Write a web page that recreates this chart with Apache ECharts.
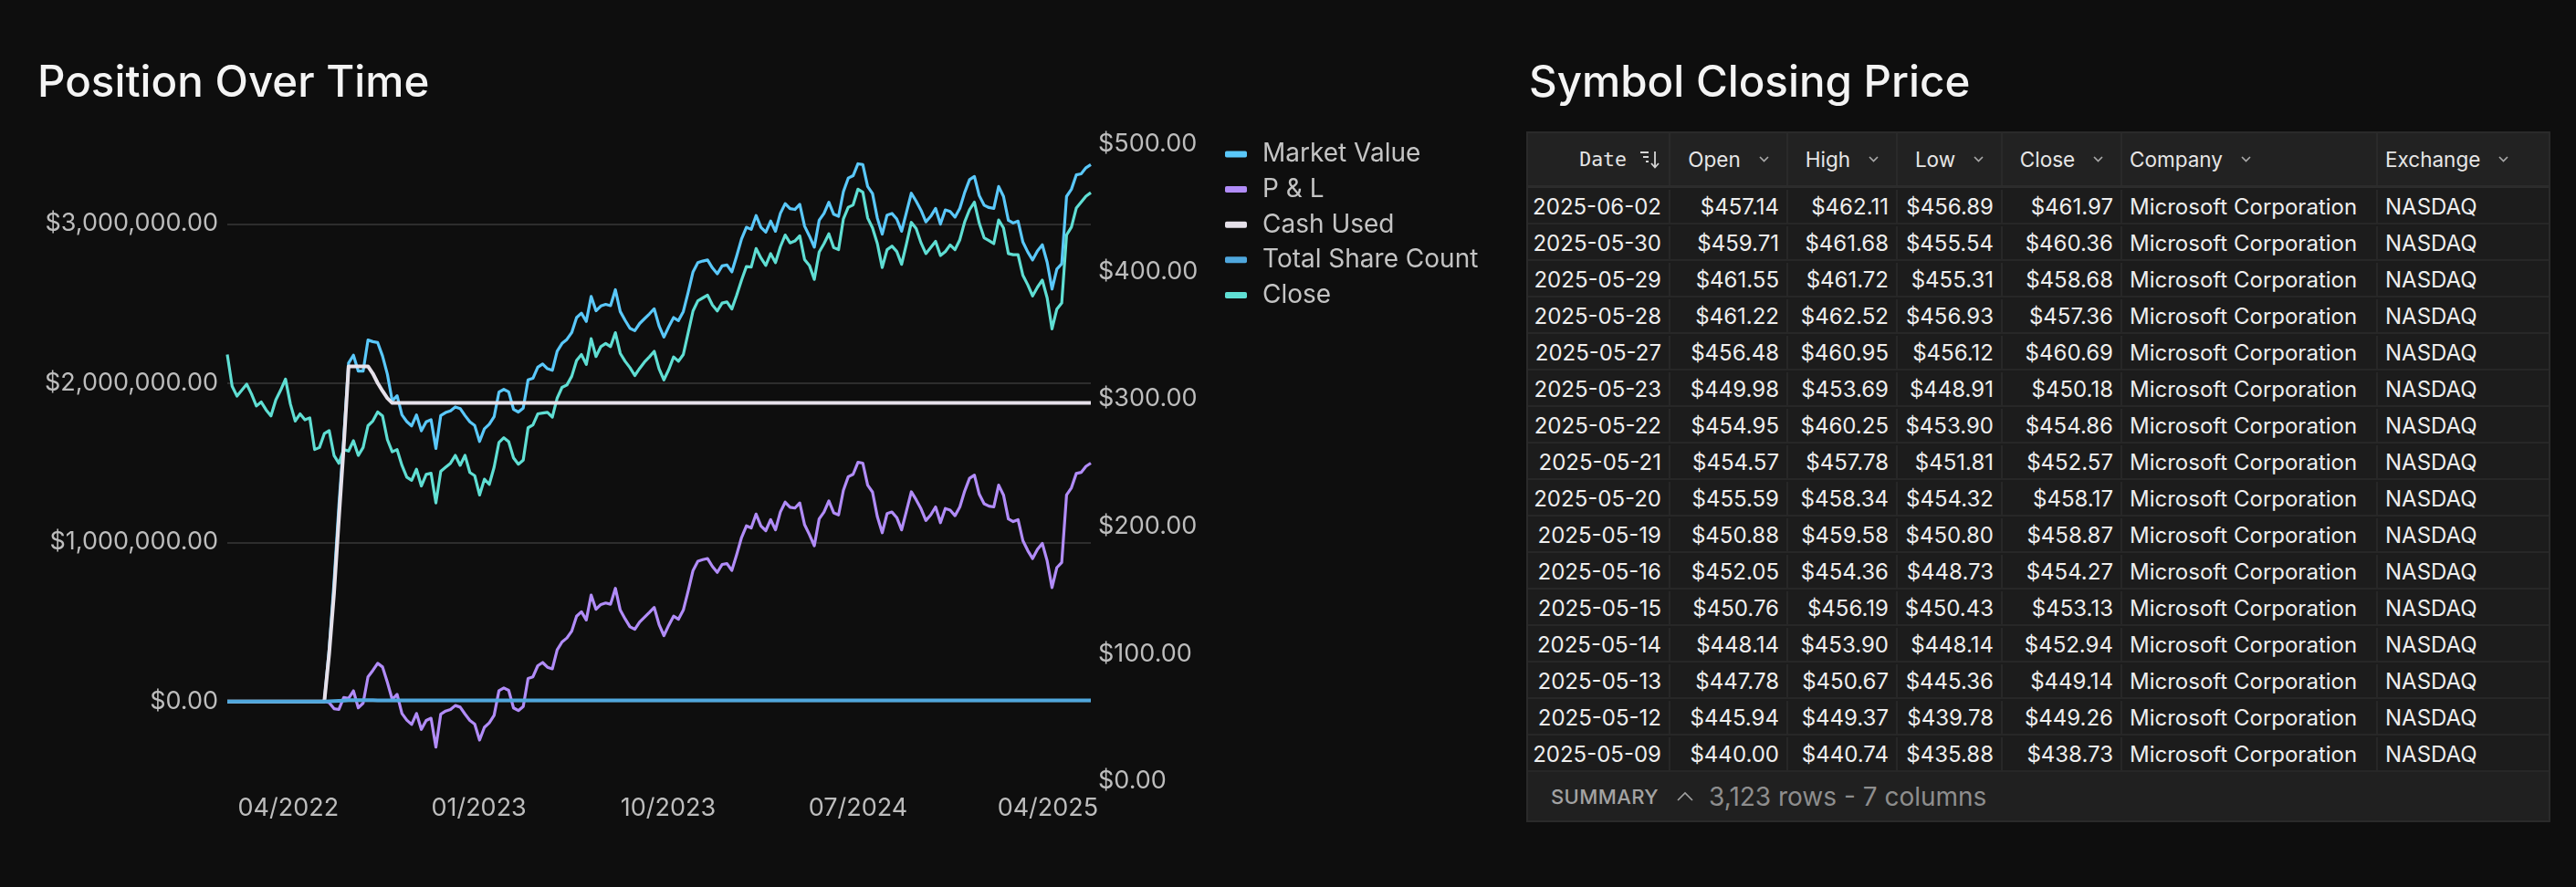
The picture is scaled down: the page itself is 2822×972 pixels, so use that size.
<!DOCTYPE html>
<html>
<head>
<meta charset="utf-8">
<script src="https://cdn.jsdelivr.net/npm/echarts@6/dist/echarts.min.js"></script>
<style>
html,body{margin:0;padding:0;background:#0e0e0e;width:2822px;height:972px;overflow:hidden;font-family:Inter,'Noto Sans',sans-serif;}
#chart{position:absolute;left:0;top:0;width:2822px;height:972px;}
.title{position:absolute;top:65px;font-size:47.5px;line-height:47px;font-weight:500;color:#f4f4f4;white-space:nowrap;}
#tbl{position:absolute;left:1672px;top:144px;width:1122px;height:757px;border:2px solid #2a2a2a;box-sizing:border-box;background:#1c1c1c;}
.hdr{display:flex;height:60px;background:#222222;border-bottom:3px solid #2c2c2c;box-sizing:border-box;}
.hcell{height:100%;border-right:2px solid #2a2a2a;display:flex;align-items:center;justify-content:center;box-sizing:border-box;font-size:22.5px;color:#e6e6e6;white-space:nowrap;}
.row{display:flex;height:40px;border-bottom:2px solid #272727;box-sizing:border-box;padding-top:2px;}
.cell{height:100%;border-right:2px solid #272727;display:flex;align-items:center;box-sizing:border-box;font-size:24px;color:#eeeeee;padding:0 8px;white-space:nowrap;overflow:hidden;}
.last{border-right:none;}
.right{justify-content:flex-end;}
.left{justify-content:flex-start;}
.footer{height:53px;background:#202020;display:flex;align-items:center;padding-left:25px;box-sizing:border-box;}
.sum{font-size:22px;color:#a3a3a3;font-weight:500;letter-spacing:0.4px;}
.cnt{font-size:28px;color:#8e8e8e;margin-left:17px;}
</style>
</head>
<body>
<div id="chart"></div>
<div class="title" style="left:41px">Position Over Time</div>
<div class="title" style="left:1675px">Symbol Closing Price</div>
<div id="tbl"></div>
<script>
// ---------- chart data (weekly samples) ----------
const weekDates = [
'2022-01-03','2022-01-10','2022-01-17','2022-01-24','2022-01-31','2022-02-07','2022-02-14','2022-02-21','2022-02-28','2022-03-07','2022-03-14','2022-03-21','2022-03-28','2022-04-04','2022-04-11','2022-04-18','2022-04-25','2022-05-02','2022-05-09','2022-05-16','2022-05-23','2022-05-30','2022-06-06','2022-06-13','2022-06-20','2022-06-27','2022-07-04','2022-07-11','2022-07-18','2022-07-25','2022-08-01','2022-08-08','2022-08-15','2022-08-22','2022-08-29','2022-09-05','2022-09-12','2022-09-19','2022-09-26','2022-10-03','2022-10-10','2022-10-17','2022-10-24','2022-10-31','2022-11-07','2022-11-14','2022-11-21','2022-11-28','2022-12-05','2022-12-12','2022-12-19','2022-12-26',
'2023-01-02','2023-01-09','2023-01-16','2023-01-23','2023-01-30','2023-02-06','2023-02-13','2023-02-20','2023-02-27','2023-03-06','2023-03-13','2023-03-20','2023-03-27','2023-04-03','2023-04-10','2023-04-17','2023-04-24','2023-05-01','2023-05-08','2023-05-15','2023-05-22','2023-05-29','2023-06-05','2023-06-12','2023-06-19','2023-06-26','2023-07-03','2023-07-10','2023-07-17','2023-07-24','2023-07-31','2023-08-07','2023-08-14','2023-08-21','2023-08-28','2023-09-04','2023-09-11','2023-09-18','2023-09-25','2023-10-02','2023-10-09','2023-10-16','2023-10-23','2023-10-30','2023-11-06','2023-11-13','2023-11-20','2023-11-27','2023-12-04','2023-12-11','2023-12-18','2023-12-25',
'2024-01-01','2024-01-08','2024-01-15','2024-01-22','2024-01-29','2024-02-05','2024-02-12','2024-02-19','2024-02-26','2024-03-04','2024-03-11','2024-03-18','2024-03-25','2024-04-01','2024-04-08','2024-04-15','2024-04-22','2024-04-29','2024-05-06','2024-05-13','2024-05-20','2024-05-27','2024-06-03','2024-06-10','2024-06-17','2024-06-24','2024-07-01','2024-07-08','2024-07-15','2024-07-22','2024-07-29','2024-08-05','2024-08-12','2024-08-19','2024-08-26','2024-09-02','2024-09-09','2024-09-16','2024-09-23','2024-09-30','2024-10-07','2024-10-14','2024-10-21','2024-10-28','2024-11-04','2024-11-11','2024-11-18','2024-11-25','2024-12-02','2024-12-09','2024-12-16','2024-12-23','2024-12-30',
'2025-01-06','2025-01-13','2025-01-20','2025-01-27','2025-02-03','2025-02-10','2025-02-17','2025-02-24','2025-03-03','2025-03-10','2025-03-17','2025-03-24','2025-03-31','2025-04-07','2025-04-14','2025-04-21','2025-04-28','2025-05-05','2025-05-12','2025-05-19','2025-05-26','2025-06-02'
];

const closePrice = [
334.9,310.0,302.3,306.9,311.6,303.8,294.5,297.6,291.4,286.7,299.2,306.9,315.6,296.1,282.7,288.3,283.6,285.2,260.3,261.9,272.8,275.2,255.7,249.5,260.3,259.1,267.2,255.7,261.9,279.0,282.7,289.8,286.7,268.1,258.5,260.3,247.9,238.6,236.1,244.8,231.7,240.8,241.7,218.4,243.2,246.4,249.5,255.7,247.9,255.7,242.3,239.8,
224.6,237.0,233.0,246.4,265.9,269.6,266.5,253.8,248.8,251.9,277.4,279.6,288.3,288.9,289.5,285.8,300.7,309.1,311.0,317.8,330.2,334.9,327.1,347.3,333.3,341.1,343.6,341.1,352.0,335.8,329.6,324.6,318.4,324.0,329.0,333.0,337.4,323.7,315.0,323.1,333.0,329.6,334.9,352.0,369.1,377.1,379.3,381.5,373.7,369.1,375.3,376.2,
370.6,381.5,393.3,403.9,403.5,418.1,410.7,404.8,414.1,407.0,419.4,428.7,422.5,424.0,428.1,409.4,404.8,393.9,415.3,421.9,429.6,418.8,417.2,441.4,450.5,452.3,464.7,462.3,442.1,434.3,421.9,403.2,417.2,420.0,415.7,405.7,421.9,438.6,433.7,422.5,414.1,418.8,423.7,412.6,415.7,420.9,417.2,425.0,439.0,448.6,454.5,438.0,426.5,
424.4,421.9,440.5,434.3,414.1,413.2,413.2,397.0,389.6,380.9,387.7,393.3,379.3,355.0,370.6,375.3,428.7,434.9,449.8,454.5,459.2,461.97
];

const marketValue = [
0,0,0,0,0,0,0,0,0,0,0,0,0,0,0,0,0,0,0,0,0,330000,750000,1230000,1650000,2125000,2175000,2075000,2075000,2270000,2260000,2254000,2170000,2055000,1888000,1920000,1800000,1758000,1731000,1800000,1700000,1756000,1770000,1589000,1796000,1815000,1825000,1850000,1840000,1796000,1756000,1733000,
1633000,1713000,1741000,1788000,1943000,1960000,1945000,1835000,1818000,1843000,2020000,2030000,2100000,2120000,2090000,2080000,2200000,2249000,2274000,2317000,2411000,2439000,2387000,2544000,2454000,2484000,2494000,2486000,2586000,2449000,2394000,2344000,2329000,2374000,2404000,2434000,2466000,2359000,2289000,2354000,2411000,2392000,2449000,2569000,2698000,2756000,2766000,2773000,2723000,2686000,2736000,2741000,
2698000,2798000,2905000,2978000,2965000,3052000,2978000,2948000,3017000,2953000,3065000,3127000,3095000,3090000,3122000,2985000,2923000,2853000,3022000,3065000,3135000,3060000,3047000,3202000,3287000,3302000,3377000,3372000,3234000,3190000,3035000,2935000,3055000,3065000,3030000,2953000,3072000,3192000,3142000,3085000,3012000,3047000,3097000,2998000,3087000,3077000,3042000,3097000,3197000,3277000,3297000,3177000,3117000,
3102000,3097000,3234000,3172000,3022000,3005000,3017000,2885000,2823000,2773000,2830000,2868000,2758000,2590000,2716000,2748000,3172000,3217000,3307000,3314000,3352000,3372000
];

const profitLoss = [
0,0,0,0,0,0,0,0,0,0,0,0,0,0,0,0,0,0,0,0,0,-7000,-45000,-50000,25000,20000,67000,-40000,-10000,155000,195000,240000,217000,120000,13000,45000,-75000,-117000,-144000,-75000,-175000,-119000,-105000,-286000,-79000,-60000,-50000,-25000,-35000,-79000,-119000,-142000,
-242000,-162000,-134000,-87000,68000,85000,70000,-40000,-57000,-32000,145000,155000,225000,245000,215000,205000,325000,374000,399000,442000,536000,564000,512000,669000,579000,609000,619000,611000,711000,574000,519000,469000,454000,499000,529000,559000,591000,484000,414000,479000,536000,517000,574000,694000,823000,881000,891000,898000,848000,811000,861000,866000,
823000,923000,1030000,1103000,1090000,1177000,1103000,1073000,1142000,1078000,1190000,1252000,1220000,1215000,1247000,1110000,1048000,978000,1147000,1190000,1260000,1185000,1172000,1327000,1412000,1427000,1502000,1497000,1359000,1315000,1160000,1060000,1180000,1190000,1155000,1078000,1197000,1317000,1267000,1210000,1137000,1172000,1222000,1123000,1212000,1202000,1167000,1222000,1322000,1402000,1422000,1302000,1242000,
1227000,1222000,1359000,1297000,1147000,1130000,1142000,1010000,948000,898000,955000,993000,883000,715000,841000,873000,1297000,1342000,1432000,1439000,1477000,1497000
];

// piecewise-constant series: values at the dates where they change
const positionDates = ['2022-01-03','2022-05-23','2022-05-30','2022-06-06','2022-06-13','2022-06-20','2022-06-27','2022-07-25','2022-08-01','2022-08-08','2022-08-15','2022-08-22','2022-08-29','2025-06-02'];
const cashUsed      = [0, 0, 300000, 680000, 1150000, 1600000, 2105000, 2105000, 2060000, 2000000, 1950000, 1905000, 1875000, 1875000];
const shareCount    = [0, 0, 1100, 2700, 4600, 6300, 8150, 8150, 8000, 7800, 7600, 7450, 7300, 7300];

const xTickDates = ['2022-04-01','2023-01-01','2023-10-01','2024-07-01','2025-04-01'];
const leftTicks = [0, 1000000, 2000000, 3000000];
const seriesNames = ['Market Value','P & L','Cash Used','Total Share Count','Close'];
const seriesColors = ['#5ac8fa','#b18cf8','#e6e1ea','#4fa7dd','#5fded3'];

// ---------- table data ----------
const tableColumns = ['Date','Open','High','Low','Close','Company','Exchange'];
const tableDates = ['2025-06-02','2025-05-30','2025-05-29','2025-05-28','2025-05-27','2025-05-23','2025-05-22','2025-05-21','2025-05-20','2025-05-19','2025-05-16','2025-05-15','2025-05-14','2025-05-13','2025-05-12','2025-05-09'];
const tableOpen  = [457.14,459.71,461.55,461.22,456.48,449.98,454.95,454.57,455.59,450.88,452.05,450.76,448.14,447.78,445.94,440.00];
const tableHigh  = [462.11,461.68,461.72,462.52,460.95,453.69,460.25,457.78,458.34,459.58,454.36,456.19,453.90,450.67,449.37,440.74];
const tableLow   = [456.89,455.54,455.31,456.93,456.12,448.91,453.90,451.81,454.32,450.80,448.73,450.43,448.14,445.36,439.78,435.88];
const tableClose = [461.97,460.36,458.68,457.36,460.69,450.18,454.86,452.57,458.17,458.87,454.27,453.13,452.94,449.14,449.26,438.73];
const tableCompany = 'Microsoft Corporation';
const tableExchange = 'NASDAQ';
const summaryText = '3,123 rows - 7 columns';

// ---------- helpers ----------
const toTs = s => { const p = s.split('-'); return Date.UTC(+p[0], +p[1] - 1, +p[2]); };
const pad2 = n => (n < 10 ? '0' : '') + n;
const money = v => '$' + Number(v).toLocaleString('en-US', {minimumFractionDigits: 2, maximumFractionDigits: 2});
const weekTs = weekDates.map(toTs);
const posTs = positionDates.map(toTs);
const pairs = (ts, vals) => vals.map((v, i) => [ts[i], v]);

const labelStyle = {color: '#bdbdbd', fontSize: 27, fontFamily: 'Inter'};

const lineSeries = (name, idx, data, width, yAxisIndex, z) => ({
  name: name, type: 'line', yAxisIndex: yAxisIndex, data: data,
  showSymbol: false, symbol: 'none', z: z,
  lineStyle: {color: seriesColors[idx], width: width, join: 'round'},
  itemStyle: {color: seriesColors[idx]},
  emphasis: {disabled: true}
});

const chart = echarts.init(document.getElementById('chart'), null, {renderer: 'canvas'});
chart.setOption({
  animation: false,
  backgroundColor: 'transparent',
  textStyle: {fontFamily: 'Inter'},
  legend: {
    orient: 'vertical', left: 1337, top: 150,
    itemWidth: 24, itemHeight: 7, itemGap: 10.6, icon: 'roundRect',
    selectedMode: false,
    textStyle: {color: '#c4c4c4', fontSize: 28, fontFamily: 'Inter', padding: [0, 0, 0, 12]},
    data: seriesNames
  },
  grid: {left: 249, right: 1627, top: 158, bottom: 116, containLabel: false, outerBoundsMode: 'none'},
  xAxis: {
    type: 'value', min: weekTs[0], max: weekTs[weekTs.length - 1],
    axisLine: {show: false}, axisTick: {show: false}, splitLine: {show: false},
    axisLabel: Object.assign({
      customValues: xTickDates.map(toTs), margin: 16,
      formatter: v => { const d = new Date(v); return pad2(d.getUTCMonth() + 1) + '/' + d.getUTCFullYear(); }
    }, labelStyle)
  },
  yAxis: [
    {
      type: 'value', min: -500000, max: 3500000, position: 'left',
      axisLine: {show: false},
      axisTick: {show: false, customValues: leftTicks},
      axisLabel: Object.assign({customValues: leftTicks, formatter: money, margin: 10}, labelStyle),
      splitLine: {show: true, lineStyle: {color: '#2d2d2d', width: 2}}
    },
    {
      type: 'value', min: 0, max: 500, interval: 100, position: 'right',
      axisLine: {show: false}, axisTick: {show: false}, splitLine: {show: false},
      axisLabel: Object.assign({formatter: money, margin: 8}, labelStyle)
    }
  ],
  series: [
    lineSeries(seriesNames[0], 0, pairs(weekTs, marketValue), 3.2, 0, 2),
    lineSeries(seriesNames[1], 1, pairs(weekTs, profitLoss), 3.2, 0, 2),
    lineSeries(seriesNames[2], 2, pairs(posTs, cashUsed), 4, 0, 3),
    lineSeries(seriesNames[3], 3, pairs(posTs, shareCount), 4, 0, 4),
    lineSeries(seriesNames[4], 4, pairs(weekTs, closePrice), 3.2, 1, 2)
  ]
});

// ---------- table ----------
const colWidths = [156, 129, 120, 115, 131, 280, 187];
const chevDown = '<svg width="11" height="7" style="margin-left:20px" viewBox="0 0 11 7"><polyline points="1,1 5.5,5.5 10,1" fill="none" stroke="#a8a8a8" stroke-width="1.7"/></svg>';
const sortIcon = '<svg width="22" height="20" style="margin-left:14px" viewBox="0 0 22 20"><g stroke="#d6d6d6" stroke-width="1.8" fill="none"><path d="M1 2H10M4 7H10M7 12H10"/><path d="M17 1V18M13 14L17 18.5L21 14"/></g></svg>';
const tbl = document.getElementById('tbl');
let html = '<div class="hdr">';
tableColumns.forEach((c, i) => {
  const last = i === tableColumns.length - 1 ? ' last' : '';
  if (i === 0) {
    html += '<div class="hcell' + last + '" style="width:' + colWidths[i] + 'px;justify-content:flex-end;padding-right:10px;"><span style="font-family:\'DejaVu Sans Mono\',monospace;font-size:21.5px;">' + c + '</span>' + sortIcon + '</div>';
  } else if (i >= 5) {
    html += '<div class="hcell' + last + '" style="width:' + colWidths[i] + 'px;justify-content:flex-start;padding-left:8px;"><span>' + c + '</span>' + chevDown + '</div>';
  } else {
    html += '<div class="hcell' + last + '" style="width:' + colWidths[i] + 'px;"><span>' + c + '</span>' + chevDown + '</div>';
  }
});
html += '</div>';
tableDates.forEach((d, r) => {
  const vals = [d, money(tableOpen[r]), money(tableHigh[r]), money(tableLow[r]), money(tableClose[r]), tableCompany, tableExchange];
  html += '<div class="row">';
  vals.forEach((v, i) => {
    const cls = 'cell ' + (i >= 5 ? 'left' : 'right') + (i === vals.length - 1 ? ' last' : '');
    html += '<div class="' + cls + '" style="width:' + colWidths[i] + 'px">' + v + '</div>';
  });
  html += '</div>';
});
html += '<div class="footer"><span class="sum">SUMMARY</span><svg width="18" height="11" style="margin-left:20px" viewBox="0 0 18 11"><polyline points="1,10 9,2 17,10" fill="none" stroke="#a3a3a3" stroke-width="1.6"/></svg><span class="cnt">' + summaryText + '</span></div>';
tbl.innerHTML = html;
</script>
</body>
</html>
